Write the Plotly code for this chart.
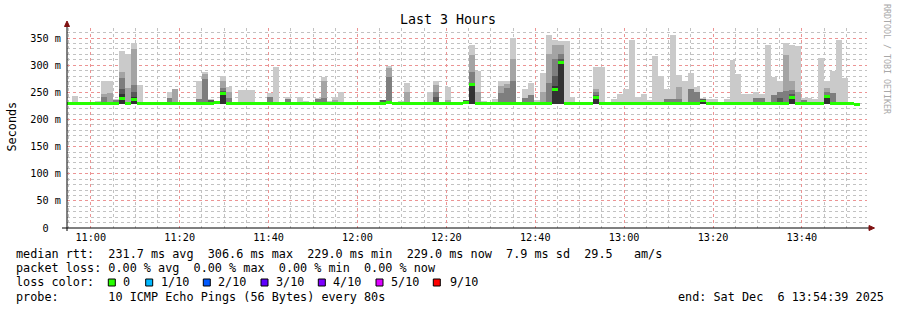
import plotly.graph_objects as go
from datetime import datetime, timedelta

# ---------------- data ----------------
end_time = "2025-12-06 13:54:39"
span_hours = 3
step_seconds = 80
first_step_end = "2025-12-06 10:55:43"   # end of the first 80 s step shown

# median rtt per step (ms), step 0 .. 133
median_ms = [
    229.5, 229.5, 229.5, 229.5, 229.5, 229.5, 229.5, 229.5, 229.5, 239,
    229.5, 237, 229.5, 229.5, 229.5, 229.5, 229.5, 229.5, 229.5, 229.5,
    229.5, 229.5, 229.5, 229.5, 229.5, 231.5, 248, 229.5, 229.5, 229.5,
    229.5, 229.5, 229.5, 229.5, 229.5, 229.5, 229.5, 229.5, 229.5, 229.5,
    229.5, 229.5, 229.5, 229.5, 229.5, 229.5, 229.5, 229.5, 229.5, 229.5,
    229.5, 229.5, 229.5, 229.5, 231.5, 229.5, 229.5, 229.5, 229.5, 229.5,
    229.5, 229.5, 229.5, 229.5, 229.5, 229.5, 229.5, 232, 264, 229.5,
    229.5, 229.5, 229.5, 229.5, 229.5, 229.5, 229.5, 229.5, 229.5, 229.5,
    229.5, 229.5, 255, 305, 229.5, 229.5, 229.5, 229.5, 229.5, 241,
    229.5, 229.5, 229.5, 229.5, 229.5, 229.5, 229.5, 229.5, 229.5, 229.5,
    229.5, 229.5, 229.5, 229.5, 229.5, 229.5, 229.5, 234, 229.5, 229.5,
    229.5, 229.5, 229.5, 229.5, 229.5, 229.5, 229.5, 229.5, 229.5, 229.5,
    229.5, 229.5, 241, 229.5, 229.5, 229.5, 229.5, 229.5, 243, 229.5,
    229.5, 229.5, 229.5, 228,
]

# smoke: lowest pings sit at the floor; upper pings per step (ms)
smoke_floor_ms = 229.0
p10_steps = [1, 5, 6, 7, 8, 9, 10, 11, 12, 17, 18, 19, 22, 23, 24, 26, 27, 29, 30, 31,
             34, 35, 37, 39, 40, 42, 43, 44, 45, 46, 53, 54, 56, 57, 61, 62, 64, 67, 68, 69,
             70, 72, 73, 74, 75, 77, 78, 79, 80, 81, 82, 83, 84, 85, 89, 90, 92, 93, 94, 95,
             96, 97, 98, 99, 100, 101, 102, 103, 104, 105, 106, 107, 108, 109, 111, 112, 113,
             114, 115, 116, 117, 118, 119, 120, 121, 122, 123, 124, 125, 126, 127, 128, 129,
             130, 131]
p10_ms = [243, 234, 271, 271, 238, 327, 320, 340, 263, 250, 256, 232, 271, 288, 237, 280, 260,
          255, 255, 255, 249, 297, 241, 241, 234, 239, 279, 234, 241, 251, 236, 299, 234, 268,
          251, 271, 260, 236, 338, 290, 234, 237, 270, 270, 350, 257, 268, 236, 286, 355, 346,
          345, 345, 241, 297, 296, 237, 246, 257, 347, 241, 247, 236, 316, 280, 257, 355, 281,
          270, 285, 260, 240, 237, 237, 237, 310, 283, 247, 247, 251, 247, 338, 279, 270, 341,
          338, 336, 239, 240, 238, 313, 270, 290, 347, 277]

p9_steps = [6, 7, 9, 10, 11, 18, 23, 26, 27, 43, 45, 54, 57, 62, 64, 67, 68, 69, 73, 74, 75,
            80, 81, 82, 83, 89, 103, 121, 122, 123, 128]
p9_ms = [247, 249, 288, 258, 330, 256, 284, 270, 250, 271, 236, 295, 250, 263, 236, 236, 319,
         250, 262, 265, 311, 250, 320, 338, 338, 257, 259, 319, 270, 250, 258]

p8_steps = [6, 8, 9, 11, 17, 22, 23, 26, 27, 34, 37, 42, 43, 53, 54, 62, 67, 68, 73, 74, 75,
            77, 78, 81, 82, 83, 89, 101, 102, 103, 105, 106, 116, 117, 119, 120, 121, 122, 124,
            128, 129]
p8_ms = [241, 235, 277, 263, 240, 237, 275, 258, 240, 241, 237, 237, 239, 236, 279, 251, 236,
         288, 249, 258, 270, 240, 245, 268, 311, 320, 250, 237, 238, 238, 257, 250, 240, 240,
         245, 250, 253, 255, 236, 250, 249]

p7_steps = [9, 11, 24, 26, 53, 62, 67, 68, 82, 83, 89, 107, 120, 122, 128]
p7_ms = [257, 250, 236, 252, 236, 241, 235, 268, 280, 312, 245, 237, 240, 246, 245]

p6_steps = [9, 11, 26, 68, 82, 83, 89, 107, 122, 128]
p6_ms = [247, 242, 250, 266, 262, 308, 243, 236, 244, 244]

y_max_ms = 368.5
y_tick_step_ms = 50
y_minor_step_ms = 10
y_unit_suffix = " m"
y_zero_label = "0\u00a0\u00a0"

loss_labels = ["0", "1/10", "2/10", "3/10", "4/10", "5/10", "9/10"]
loss_colors = ["#26ff00", "#00b8ff", "#0059ff", "#5e00ff", "#7e00ff", "#dd00ff", "#ff0000"]

stats_line = "median rtt:  231.7 ms avg  306.6 ms max  229.0 ms min  229.0 ms now  7.9 ms sd  29.5   am/s"
loss_line = "packet loss: 0.00 % avg  0.00 % max  0.00 % min  0.00 % now"
probe_line = "probe:       10 ICMP Echo Pings (56 Bytes) every 80s"
end_line = "end: Sat Dec  6 13:54:39 2025"
title_text = "Last 3 Hours"

# ---------------- figure ----------------
W, H = 897, 310
L, R, T, B = 67, 30, 28, 82
PW, PH = W - L - R, H - T - B


def px_x(x):
    return (x - L) / PW


def px_y(y):
    return (T + PH - y) / PH


fmt = "%Y-%m-%d %H:%M:%S"
t_end = datetime.strptime(end_time, fmt)
t_start = t_end - timedelta(hours=span_hours)
t_first = datetime.strptime(first_step_end, fmt)
step_ms = step_seconds * 1000


def center(j):
    return t_first + timedelta(seconds=step_seconds * j - step_seconds / 2)


fig = go.Figure()

bands = [
    (p10_steps, p10_ms, "#cacaca"),
    (p9_steps, p9_ms, "#a4a4a4"),
    (p8_steps, p8_ms, "#7e7e7e"),
    (p7_steps, p7_ms, "#585858"),
    (p6_steps, p6_ms, "#323232"),
]
for steps, vals, col in bands:
    assert len(steps) == len(vals)
    fig.add_trace(go.Bar(
        x=[center(j) for j in steps],
        y=[v - smoke_floor_ms for v in vals],
        base=smoke_floor_ms,
        width=step_ms,
        marker=dict(color=col, line=dict(width=0)),
        hoverinfo="skip", showlegend=False,
    ))

half = 2.6
fig.add_trace(go.Bar(
    x=[center(j) for j in range(len(median_ms))],
    y=[2 * half] * len(median_ms),
    base=[m - half for m in median_ms],
    width=step_ms,
    marker=dict(color=loss_colors[0], line=dict(width=0)),
    hoverinfo="skip", showlegend=False,
))

minor_grid = "#c2c2c2"
major_grid = "#ec9494"
mono = "DejaVu Sans Mono"

fig.update_layout(
    width=W, height=H,
    margin=dict(l=L, r=R, t=T, b=B, pad=0),
    paper_bgcolor="white", plot_bgcolor="white",
    barmode="overlay", bargap=0,
    font=dict(family=mono, color="black", size=10.2),
    showlegend=False,
    xaxis=dict(
        type="date", range=[t_start, t_end],
        tick0="2025-12-06 11:00:00", dtick=20 * 60 * 1000, tickformat="%H:%M",
        showgrid=True, gridcolor=major_grid, griddash="dot", gridwidth=1,
        minor=dict(tick0="2025-12-06 11:00:00", dtick=5 * 60 * 1000, showgrid=True,
                   gridcolor=minor_grid, griddash="dot", gridwidth=1),
        showline=False, zeroline=False, ticks="",
        tickfont=dict(family=mono, size=10.2, color="black"),
        ticklabelstandoff=2,
    ),
    yaxis=dict(
        range=[0, y_max_ms],
        tickmode="linear", tick0=0, dtick=y_tick_step_ms,
        ticksuffix=y_unit_suffix,
        labelalias={"0" + y_unit_suffix: y_zero_label},
        showgrid=True, gridcolor=major_grid, griddash="dot", gridwidth=1,
        minor=dict(tick0=0, dtick=y_minor_step_ms, showgrid=True,
                   gridcolor=minor_grid, griddash="dot", gridwidth=1),
        showline=False, zeroline=False, ticks="",
        tickfont=dict(family=mono, size=10.2, color="black"),
        ticklabelstandoff=5,
    ),
)

shapes = []
# axes
shapes.append(dict(type="line", xref="paper", yref="paper", x0=px_x(67), x1=px_x(67),
                   y0=px_y(231), y1=px_y(25), line=dict(color="black", width=1)))
shapes.append(dict(type="line", xref="paper", yref="paper", x0=px_x(62), x1=px_x(869),
                   y0=px_y(228), y1=px_y(228), line=dict(color="black", width=1)))
arrow_col = "#7f1010"
up = [(64.5, 26.5), (69.5, 26.5), (67, 21)]
right = [(869, 225.5), (869, 230.5), (874.5, 228)]
for tri in (up, right):
    p = "M {} {} L {} {} L {} {} Z".format(
        px_x(tri[0][0]), px_y(tri[0][1]), px_x(tri[1][0]), px_y(tri[1][1]),
        px_x(tri[2][0]), px_y(tri[2][1]))
    shapes.append(dict(type="path", xref="paper", yref="paper", path=p,
                       fillcolor=arrow_col, line=dict(color=arrow_col, width=1)))

# loss colour swatches
sw_left = [108.3, 145.7, 203.3, 261, 318.3, 376, 433.3]
lab_left = [123.3, 160.7, 218.3, 276, 333.3, 391, 450]
for xl, col in zip(sw_left, loss_colors):
    shapes.append(dict(type="rect", xref="paper", yref="paper",
                       x0=px_x(xl), x1=px_x(xl + 7), y0=px_y(286), y1=px_y(279),
                       fillcolor=col, line=dict(color="black", width=1)))
fig.update_layout(shapes=shapes)


def nb(s):
    return s.replace(" ", "\u00a0")


ann = []


def text(x, y, s, size=11.8, xanchor="left", color="black", angle=0):
    ann.append(dict(xref="paper", yref="paper", x=px_x(x), y=px_y(y), text=nb(s),
                    showarrow=False, xanchor=xanchor, yanchor="middle", textangle=angle,
                    font=dict(family=mono, size=size, color=color), borderpad=0))


text(448, 19.5, title_text, size=13.3, xanchor="center")
text(11.5, 126, "Seconds", size=11.8, xanchor="center", angle=-90)
text(887, 59, "RRDTOOL / TOBI OETIKER", size=8.3, xanchor="center", color="#a8a8a8", angle=90)
text(15, 254, stats_line)
text(15, 268, loss_line)
text(15, 282, "loss color:")
for xl, lab in zip(lab_left, loss_labels):
    text(xl - 1, 282, lab)
text(15, 296.5, probe_line)
text(677, 296.5, end_line)
fig.update_layout(annotations=ann)

fig.write_html("out.html", config={"displayModeBar": False})
